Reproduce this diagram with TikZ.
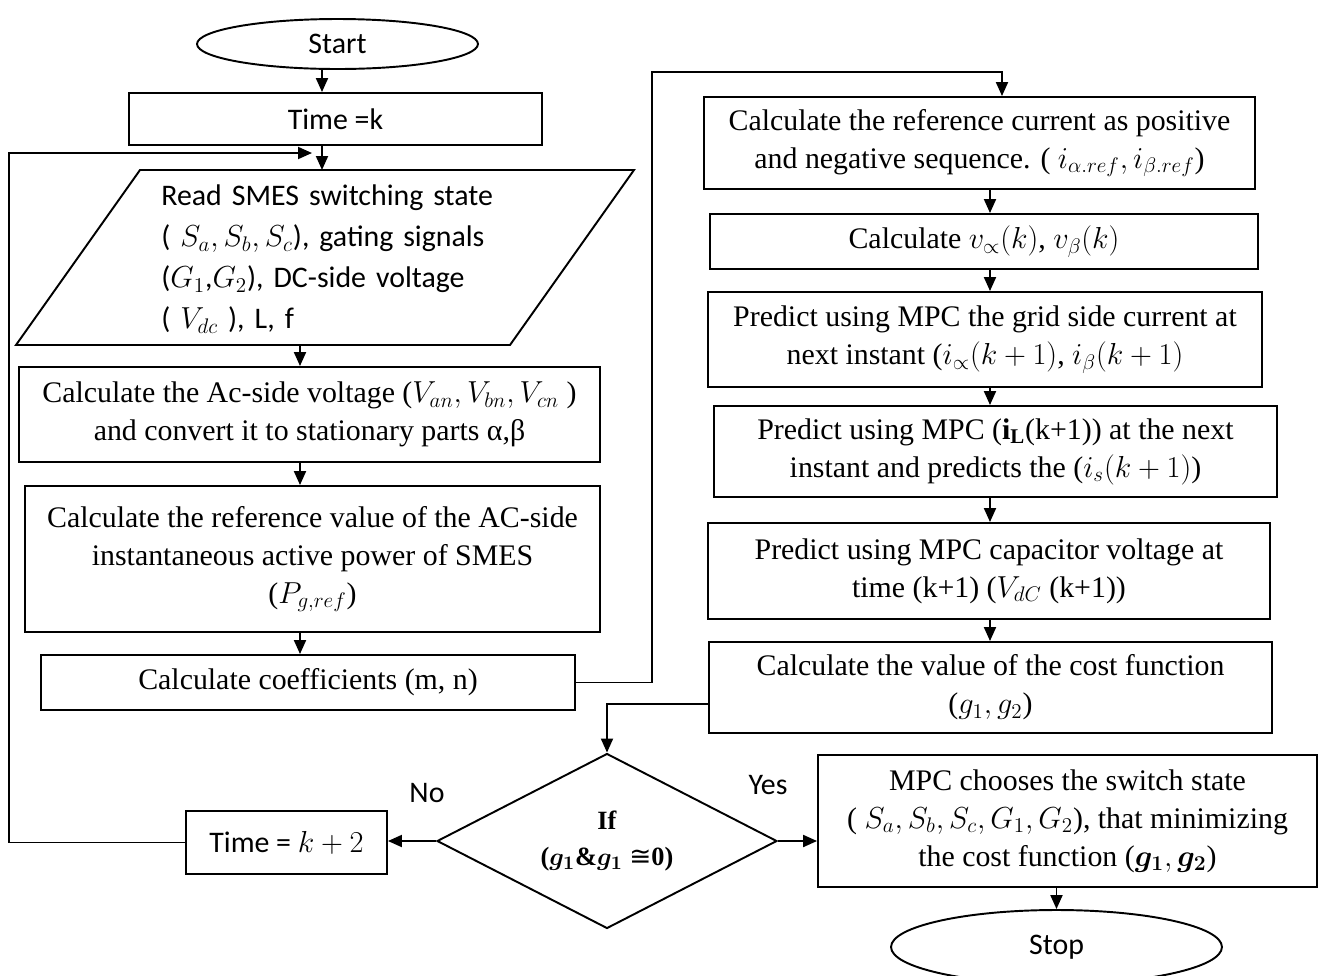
\documentclass[tikz,border=0pt]{standalone}
\usepackage{amsmath}
\usepackage{amssymb}
\usepackage{fontspec}
\setmainfont{Liberation Serif}
\newfontfamily\calibrifont{Carlito}
\newfontfamily\symbolfont{DejaVu Sans}
\usetikzlibrary{%
  shapes.geometric,%
  calc,%
  arrows.meta%
}

\begin{document}
\begin{tikzpicture}[x=0.02cm,y=-0.02cm,
  every node/.style={inner sep=0pt},
  serifbox/.style={draw,line width=1.1pt,align=center,font=\fontsize{17}{21.6}\selectfont},
  sansbox/.style={draw,line width=1.1pt,align=center,font=\calibrifont\fontsize{17}{22.8}\selectfont},
  terminal/.style={sansbox,ellipse},
  flow/.style={-{Triangle[length=2.8mm,width=2.4mm]},line width=1.1pt}]
\useasboundingbox (0,0) rectangle (1320,975);

% left column
\node[terminal,minimum width=5.62cm,minimum height=1cm] (start) at (337.5,44) {Start};
\node[sansbox,minimum width=8.26cm,minimum height=1.04cm] (timek) at (335.5,119) {Time =k};
\node[font=\calibrifont\fontsize{17}{23.4}\selectfont,text width=7.4cm,align=left,anchor=west] (read) at (161,259)
  {Read SMES switching state\\ ( $S_a,S_b,S_c$), gating signals\\ ($G_1$,$G_2$), DC-side voltage\\ ( $V_{dc}$ ), L, f};
\draw[line width=1.1pt] (140,170) -- (634,170) -- (510,345) -- (16,345) -- cycle;
\node[serifbox,minimum width=11.62cm,minimum height=1.9cm] (acv) at (309.5,414.5)
  {Calculate the Ac-side voltage ($V_{an},V_{bn},V_{cn}$ )\\ and convert it to stationary parts α,β};
\node[serifbox,minimum width=11.5cm,minimum height=2.92cm] (pref) at (312.5,559)
  {Calculate the reference value of the AC-side\\ instantaneous active power of SMES\\ ($P_{g,ref}$)};
\node[serifbox,minimum width=10.68cm,minimum height=1.1cm] (coef) at (308,682.5) {Calculate coefficients (m, n)};

% right column
\node[serifbox,minimum width=11.02cm,minimum height=1.84cm] (iref) at (979.5,143)
  {Calculate the reference current as positive\\ and negative sequence. ( $i_{\alpha.ref},i_{\beta.ref}$)};
\node[serifbox,minimum width=10.96cm,minimum height=1.1cm] (vab) at (984,241.5) {Calculate $v_{\propto}(k)$, $v_{\beta}(k)$};
\node[serifbox,minimum width=11.08cm,minimum height=1.9cm] (igrid) at (985,339.5)
  {Predict using MPC the grid side current at\\ next instant ($i_{\propto}(k+1)$, $i_{\beta}(k+1)$};
\node[serifbox,minimum width=11.26cm,minimum height=1.82cm] (iload) at (995.5,451.5)
  {Predict using MPC ($\mathbf{i}_{\mathbf{L}}$(k+1)) at the next\\ instant and predicts the ($i_s(k+1)$)};
\node[serifbox,minimum width=11.24cm,minimum height=1.92cm] (vcap) at (989,571)
  {Predict using MPC capacitor voltage at\\ time (k+1) ($V_{dC}$ (k+1))};
\node[serifbox,minimum width=11.26cm,minimum height=1.82cm] (cost) at (990.5,687.5)
  {Calculate the value of the cost function\\ ($g_1,g_2$)};

% bottom row
\node[draw,diamond,aspect=2,line width=1.1pt,minimum width=6.8cm,minimum height=3.5cm,align=center,font=\fontsize{15}{21}\selectfont] (cond) at (607,841)
  {\textbf{If}\\ \textbf{(}{\boldmath$g_1\&g_1$} {\symbolfont ≅}\textbf{0)}};
\node[sansbox,minimum width=4.02cm,minimum height=1.26cm] (timek2) at (286.5,842.5) {Time = $k+2$};
\node[serifbox,minimum width=9.98cm,minimum height=2.64cm] (choose) at (1067.5,821)
  {MPC chooses the switch state\\ ( $S_a,S_b,S_c,G_1,G_2$), that minimizing\\ the cost function ($\boldsymbol{g_1},\boldsymbol{g_2}$)};
\node[terminal,minimum width=6.62cm,minimum height=1.48cm] (stop) at (1056.5,947) {Stop};
\node[font=\calibrifont\fontsize{17}{20}\selectfont] (no) at (427,793) {No};
\node[font=\calibrifont\fontsize{17}{20}\selectfont] (yes) at (768,785) {Yes};

% turning points
\coordinate (readin) at (322,170);
\coordinate (readout) at (300,345);
\coordinate (loopin) at (312,153);
\coordinate (loopleft) at (9,153);
\coordinate (uphigh) at (652,72);
\coordinate (rcol) at (990,0);

\draw[flow] (start.south -| readin) -- (timek.north -| readin);
\draw[flow] (timek.south -| readin) -- (readin);
\draw[flow] (readout) -- (acv.north -| readout);
\draw[flow] (acv.south -| readout) -- (pref.north -| readout);
\draw[flow] (pref.south -| readout) -- (coef.north -| readout);
\draw[flow] (coef.east) -| (uphigh) -| ([xshift=0.45cm]iref.north);
\foreach \a/\b in {iref/vab,vab/igrid,igrid/iload,iload/vcap,vcap/cost}
  \draw[flow] (\a.south -| rcol) -- (\b.north -| rcol);
\draw[flow] ([yshift=-0.33cm]cost.west) -| (cond.north);
\draw[flow] (cond.west) -- (cond.west -| timek2.east);
\draw[flow] (cond.east) -- (cond.east -| choose.west);
\draw[flow] (choose.south -| stop.north) -- (stop.north);
\draw[flow] (timek2.west) -| (loopleft) -- (loopin);
\end{tikzpicture}
\end{document}
